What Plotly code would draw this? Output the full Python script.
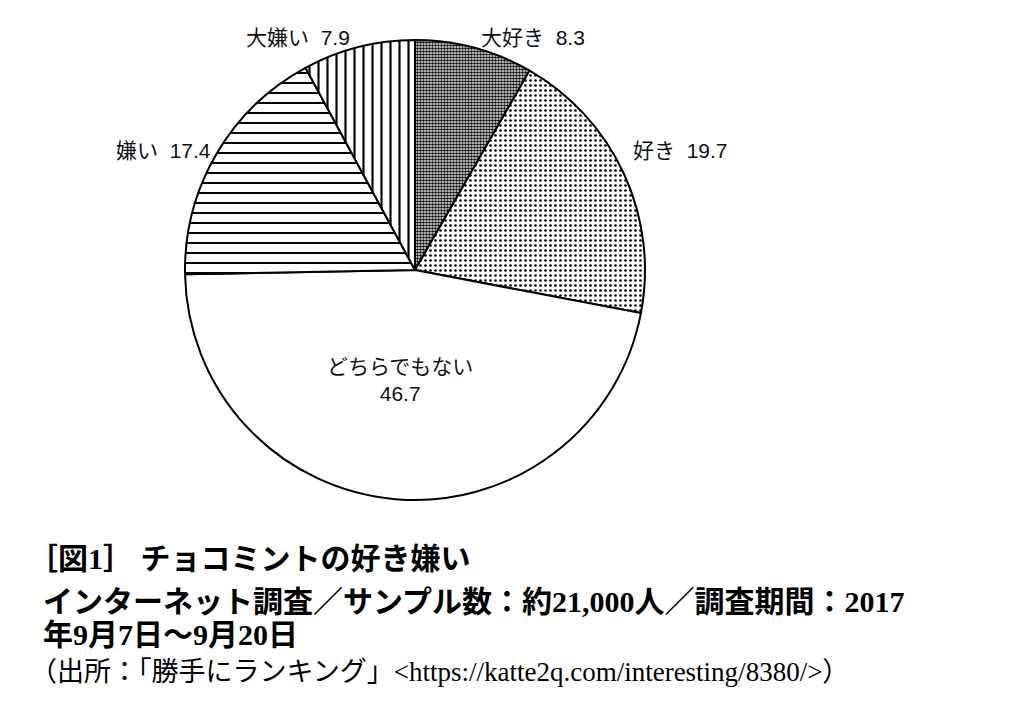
import plotly.graph_objects as go

labels = ["大好き", "好き", "どちらでもない", "嫌い", "大嫌い"]
values = [8.3, 19.7, 46.7, 17.4, 7.9]
shapes_ = [".", ".", "", "-", "|"]
sizes = [3, 5, 8, 10, 9]
solid = [0.6, 0.22, 0.1, 0.2, 0.24]

title_lines = [
    "［図1］ チョコミントの好き嫌い",
    "インターネット調査／サンプル数：約21,000人／調査期間：2017",
    "年9月7日～9月20日",
]
source = "（出所：「勝手にランキング」<https://katte2q.com/interesting/8380/>）"

W, H = 1023, 706
cx, cy, r = 407, 262, 230

fig = go.Figure(go.Pie(
    labels=labels, values=values, sort=False, direction="clockwise", rotation=0,
    textinfo="none", hoverinfo="label+value",
    marker=dict(colors=["white"] * 5, line=dict(color="black", width=2),
                pattern=dict(shape=shapes_, size=sizes, solidity=solid,
                             fgcolor="black", bgcolor="white", fillmode="replace")),
    domain=dict(x=[(cx - r) / W, (cx + r) / W], y=[(H - cy - r) / H, (H - cy + r) / H]),
    showlegend=False,
))

lab_font = dict(family="Liberation Sans, Noto Sans CJK JP, sans-serif", size=21, color="#111")
label_pos = [(525, 30), (672, 142), (392, 372), (155, 143), (290, 30)]
for i, (lx, ly) in enumerate(label_pos):
    if labels[i] == "どちらでもない":
        txt = f"{labels[i]}<br>{values[i]}"
    else:
        txt = f"{labels[i]}&nbsp; {values[i]}"
    fig.add_annotation(x=lx / W, y=1 - ly / H, xref="paper", yref="paper", text=txt,
                       showarrow=False, font=lab_font, xanchor="center", yanchor="middle")

tfont = dict(family="Liberation Serif, Noto Sans CJK JP, serif", size=30, color="black")
for i, (t, ty) in enumerate(zip(title_lines, [550, 593, 626])):
    fig.add_annotation(x=(33 if i else 18) / W, y=1 - ty / H, xref="paper", yref="paper",
                       text=f"<b>{t}</b>", showarrow=False, font=tfont,
                       xanchor="left", yanchor="middle")
fig.add_annotation(x=20 / W, y=1 - 664 / H, xref="paper", yref="paper", text=source,
                   showarrow=False,
                   font=dict(family="Liberation Serif, Noto Sans CJK JP, serif", size=27, color="black"),
                   xanchor="left", yanchor="middle")

fig.update_layout(width=W, height=H, margin=dict(l=0, r=0, t=0, b=0),
                  paper_bgcolor="white", plot_bgcolor="white")
fig.write_html("out.html")
